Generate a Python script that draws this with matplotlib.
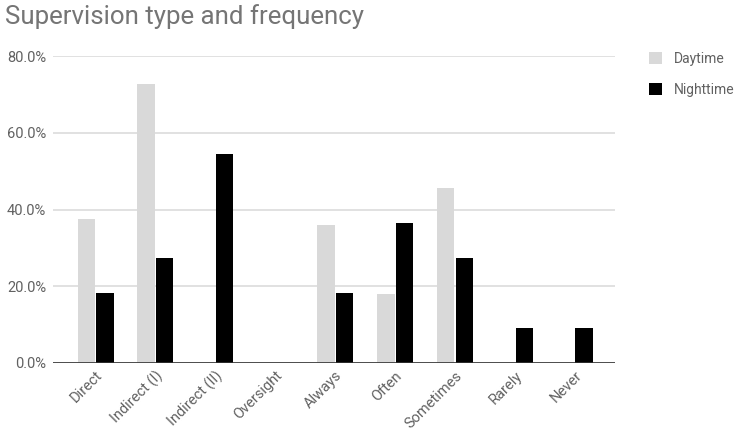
import numpy as np
from matplotlib import pyplot as plt
from matplotlib.ticker import FuncFormatter

plt.rcParams['font.family'] = ['Roboto', 'DejaVu Sans']

categories = ["Direct", "Indirect (I)", "Indirect (II)", "Oversight", "Always",
              "Often", "Sometimes", "Rarely", "Never"]
daytime = [37.5, 72.7, 0, 0, 36.0, 18.0, 45.5, 0, 0]
nighttime = [18.2, 27.3, 54.5, 0, 18.2, 36.4, 27.3, 9.1, 9.1]

day_color = "#d9d9d9"
night_color = "#000000"
text_color = "#616161"

fig = plt.figure(figsize=(7.4, 4.42), dpi=100)
ax = fig.add_axes([53 / 740, 1 - 363 / 442, (615 - 53) / 740, (363 - 56) / 442])

x = np.arange(len(categories))
w = 0.29
ax.bar(x - 0.155, daytime, w, color=day_color, label="Daytime", zorder=3)
ax.bar(x + 0.155, nighttime, w, color=night_color, label="Nighttime", zorder=3)

ax.set_xlim(-0.71, 8.67)
ax.set_ylim(0, 80)
ax.set_yticks([0, 20, 40, 60, 80])
ax.yaxis.set_major_formatter(FuncFormatter(lambda v, p: f"{v:.1f}%"))
ax.yaxis.grid(True, color="#dcdcdc", linewidth=1.2, zorder=0)
ax.axhline(0, color="#333333", linewidth=1.2, zorder=4)

for s in ax.spines.values():
    s.set_visible(False)
ax.tick_params(axis="both", length=0, colors=text_color, labelsize=10.5)
ax.tick_params(axis="y", pad=5)
ax.tick_params(axis="x", pad=4)
ax.set_xticks(x)
ax.set_xticklabels(categories, rotation=45, ha="right", rotation_mode="anchor")

fig.text(5 / 740, 1 - 17 / 442, "Supervision type and frequency", fontsize=18.6,
         color="#757575", va="center", ha="left")

leg = ax.legend(loc="upper left", bbox_to_anchor=(636 / 740, 1 - 39 / 442),
                bbox_transform=fig.transFigure, frameon=False, fontsize=10,
                handlelength=0.95, handleheight=0.95, labelspacing=1.25, handletextpad=0.85)
for t in leg.get_texts():
    t.set_color(text_color)

plt.savefig("out.png", dpi=100)
